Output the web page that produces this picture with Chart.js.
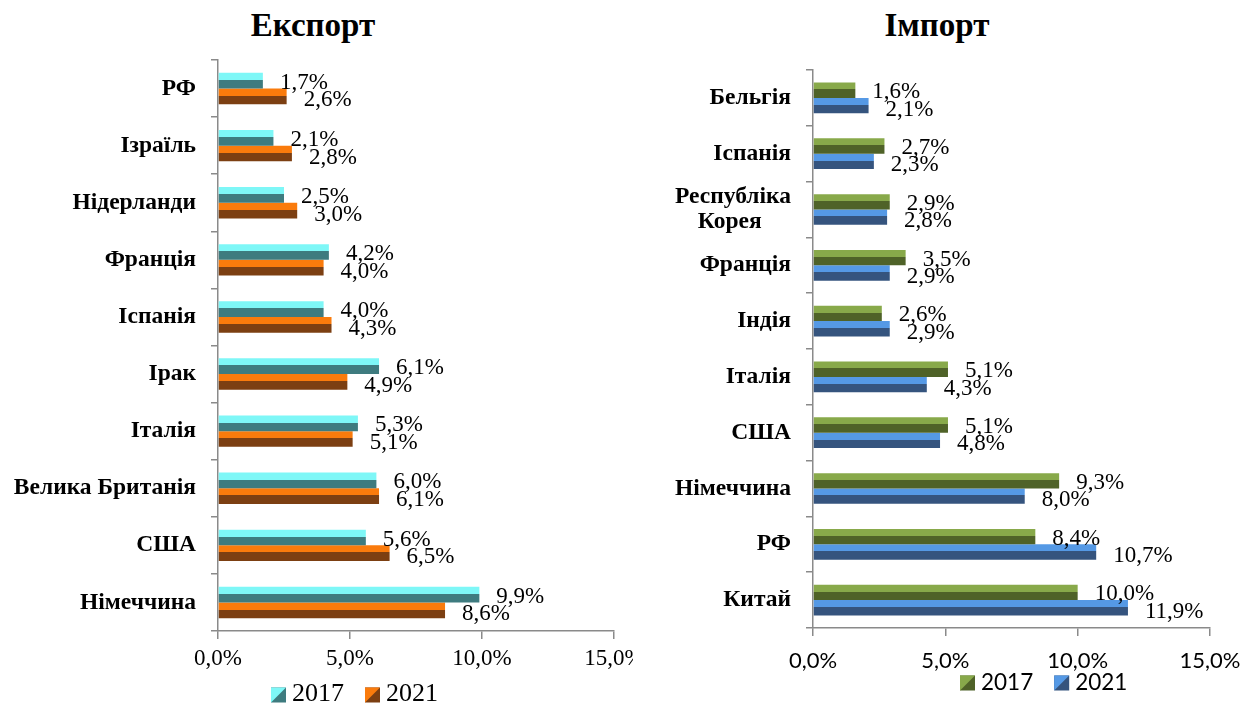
<!DOCTYPE html>
<html>
<head>
<meta charset="utf-8">
<script src="https://cdn.jsdelivr.net/npm/chart.js@4.4.1/dist/chart.umd.min.js"></script>
<style>
    body { margin: 0; width: 1259px; height: 713px; overflow: hidden; position: relative; background: #fff; }
    .title { position: absolute; top: 5px; width: 300px; text-align: center; font: bold 33px "Liberation Serif", serif; line-height: 40px; color: #000; }
    .clip { position: absolute; top: 0; height: 713px; overflow: hidden; }
</style>
</head>
<body>
<div class="title" style="left:163px">Експорт</div>
<div class="title" style="left:787px">Імпорт</div>
<div class="clip" style="left:0;width:633px"><div style="width:704px;height:713px"><canvas id="exportChart"></canvas></div></div>
<div class="clip" style="left:633px;width:626px"><div style="width:626px;height:713px"><canvas id="importChart"></canvas></div></div>

<script>
// ============================================
// DATA
// ============================================

const seriesNames = ['2017', '2021'];
const xTicks = [0, 5, 10, 15];

const exportCountries = ['РФ', 'Ізраїль', 'Нідерланди', 'Франція', 'Іспанія', 'Ірак', 'Італія', 'Велика Британія', 'США', 'Німеччина'];
const export2017 = [1.7, 2.1, 2.5, 4.2, 4.0, 6.1, 5.3, 6.0, 5.6, 9.9];
const export2021 = [2.6, 2.8, 3.0, 4.0, 4.3, 4.9, 5.1, 6.1, 6.5, 8.6];

const importCountries = ['Бельгія', 'Іспанія', ['Республіка', 'Корея\u00A0\u00A0\u00A0\u00A0\u00A0'], 'Франція', 'Індія', 'Італія', 'США', 'Німеччина', 'РФ', 'Китай'];
const import2017 = [1.6, 2.7, 2.9, 3.5, 2.6, 5.1, 5.1, 9.3, 8.4, 10.0];
const import2021 = [2.1, 2.3, 2.8, 2.9, 2.9, 4.3, 4.8, 8.0, 10.7, 11.9];

const CAT_PCT = 0.55;
const AXIS_GREY = '#8a8a8a';

// ============================================
// HELPERS
// ============================================

const fmtPct = v => v.toFixed(1).replace('.', ',') + '%';

/**
 * Two-tone fill for a horizontal bar (light top part, dark bottom part)
 */
function splitFill(light, dark) {
    return function (c) {
        const y = c.chart.scales.y;
        if (!y || c.dataIndex === undefined) return dark;
        const band = Math.abs(y.getPixelForValue(1) - y.getPixelForValue(0));
        const t = band * CAT_PCT / 2;
        const center = y.getPixelForValue(c.dataIndex) + (c.datasetIndex === 0 ? -t / 2 : t / 2);
        // scales are not laid out yet on the very first pass
        if (!isFinite(center) || !isFinite(t) || t <= 0) return dark;
        const g = c.chart.ctx.createLinearGradient(0, center - t / 2, 0, center + t / 2);
        g.addColorStop(0, light);
        g.addColorStop(0.45, light);
        g.addColorStop(0.45, dark);
        g.addColorStop(1, dark);
        return g;
    };
}

// value labels right of each bar end
const valueLabels = {
    id: 'valueLabels',
    afterDatasetsDraw(chart, args, opts) {
        const ctx = chart.ctx;
        ctx.save();
        ctx.font = '23px "Liberation Serif", serif';
        ctx.fillStyle = '#000';
        ctx.textBaseline = 'middle';
        ctx.textAlign = 'left';
        chart.data.datasets.forEach((ds, di) => {
            chart.getDatasetMeta(di).data.forEach((el, i) => {
                ctx.fillText(fmtPct(ds.data[i]), el.x + 17, el.y + opts.dy[di]);
            });
        });
        ctx.restore();
    }
};

// legend under the axis: diagonal-split square + year
const yearLegend = {
    id: 'yearLegend',
    afterDraw(chart, args, opts) {
        const ctx = chart.ctx;
        const s = 15;
        let x = opts.x;
        ctx.save();
        ctx.font = opts.font;
        ctx.textBaseline = 'middle';
        ctx.textAlign = 'left';
        chart.data.datasets.forEach((ds, i) => {
            const [light, dark] = opts.colors[i];
            const top = opts.y - s / 2;
            ctx.fillStyle = dark;
            ctx.fillRect(x, top, s, s);
            ctx.fillStyle = light;
            ctx.beginPath();
            ctx.moveTo(x, top);
            ctx.lineTo(x + s, top);
            ctx.lineTo(x, top + s);
            ctx.closePath();
            ctx.fill();
            ctx.fillStyle = '#000';
            ctx.fillText(ds.label, x + s + 6, opts.y + opts.textDy);
            x += s + 6 + ctx.measureText(ds.label).width + 21;
        });
        ctx.restore();
    }
};

function buildChart(canvasId, cfg) {
    return new Chart(document.getElementById(canvasId), {
        type: 'bar',
        data: {
            labels: cfg.labels,
            datasets: [
                { label: seriesNames[0], data: cfg.values[0], backgroundColor: splitFill(cfg.colors[0][0], cfg.colors[0][1]) },
                { label: seriesNames[1], data: cfg.values[1], backgroundColor: splitFill(cfg.colors[1][0], cfg.colors[1][1]) }
            ]
        },
        options: {
            indexAxis: 'y',
            responsive: true,
            maintainAspectRatio: false,
            animation: false,
            categoryPercentage: CAT_PCT,
            barPercentage: 1,
            layout: { padding: cfg.padding },
            plugins: {
                legend: { display: false },
                tooltip: { enabled: false },
                valueLabels: { dy: [2, 4] },
                yearLegend: cfg.legend
            },
            scales: {
                x: {
                    min: 0,
                    max: 15,
                    afterBuildTicks: s => { s.ticks = xTicks.map(v => ({ value: v })); },
                    afterFit: s => { s.height = 50; },
                    grid: { drawOnChartArea: false, drawTicks: true, tickLength: 8, color: AXIS_GREY, lineWidth: 1.5 },
                    border: { color: AXIS_GREY, width: 1.5 },
                    ticks: { color: '#000', font: cfg.tickFont, padding: cfg.tickPad, maxRotation: 0, callback: v => fmtPct(v) }
                },
                y: {
                    afterFit: s => { s.width = cfg.yWidth; },
                    grid: { drawOnChartArea: false, drawTicks: true, tickLength: 7, color: AXIS_GREY, lineWidth: 1.5, offset: true },
                    border: { color: AXIS_GREY, width: 1.5 },
                    ticks: { color: '#000', padding: 15, font: { family: '"Liberation Serif", serif', size: 23.5, weight: 'bold', lineHeight: 1.08 } }
                }
            }
        },
        plugins: [valueLabels, yearLegend]
    });
}

// ============================================
// CHARTS
// ============================================

const exportColors = [['#7ef7f7', '#3e7b7f'], ['#fa7b0c', '#7c3f12']];
const importColors = [['#88a94a', '#4f6228'], ['#5599e5', '#35547e']];

buildChart('exportChart', {
    labels: exportCountries,
    values: [export2017, export2021],
    colors: exportColors,
    padding: { top: 60, left: 0, right: 90, bottom: 32 },
    yWidth: 218,
    tickPad: 6,
    tickFont: { family: '"Liberation Serif", serif', size: 23 },
    legend: { x: 271, y: 695, textDy: -1, font: '26px "Liberation Serif", serif', colors: exportColors }
});

buildChart('importChart', {
    labels: importCountries,
    values: [import2017, import2021],
    colors: importColors,
    padding: { top: 70, left: 0, right: 49, bottom: 35 },
    yWidth: 180,
    tickPad: 12,
    tickFont: { family: 'Lato, sans-serif', size: 22 },
    legend: { x: 327, y: 683, textDy: 0, font: '22.5px Lato, sans-serif', colors: importColors }
});
</script>
</body>
</html>
